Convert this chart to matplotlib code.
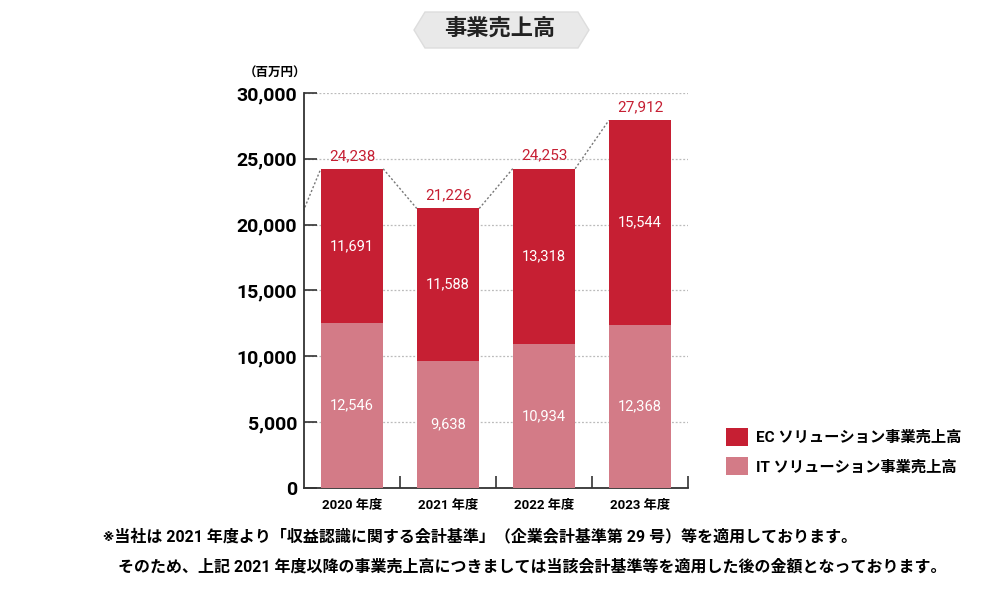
import matplotlib
matplotlib.use("Agg")
import matplotlib.pyplot as plt
from matplotlib.patches import Polygon, Patch

plt.rcParams['font.family'] = ['Roboto', 'Noto Sans CJK JP', 'DejaVu Sans']

# data (million yen)
years = ["2020 年度", "2021 年度", "2022 年度", "2023 年度"]
it_sales = [12546, 9638, 10934, 12368]
ec_sales = [11691, 11588, 13318, 15544]
totals = [24238, 21226, 24253, 27912]
prev_total = 18100  # 2019, only visible as the dotted line entering from the left
yticks = [0, 5000, 10000, 15000, 20000, 25000, 30000]

ec_color = "#c61f33"
it_color = "#d37b87"
bar_w = 0.65

fig = plt.figure(figsize=(10, 5.91), dpi=100)
ax = fig.add_axes([0.304, 0.1743, 0.384, 0.6684])

x = [i + 0.5 for i in range(len(years))]
ax.bar(x, it_sales, width=bar_w, color=it_color, zorder=3)
ax.bar(x, ec_sales, width=bar_w, bottom=it_sales, color=ec_color, zorder=3)

# labels inside and above bars
for xi, it, ec, tot in zip(x, it_sales, ec_sales, totals):
    ax.text(xi, it / 2, f"{it:,}", ha='center', va='center', color='white',
            fontsize=10.5, zorder=4)
    ax.text(xi, it + ec / 2, f"{ec:,}", ha='center', va='center', color='white',
            fontsize=10.5, zorder=4)
    ax.text(xi, it + ec + 450, f"{tot:,}", ha='center', va='bottom', color=ec_color,
            fontsize=11, zorder=4)

# dotted connectors between bar tops
tops = [prev_total] + [it + ec for it, ec in zip(it_sales, ec_sales)]
xs = [-0.5] + x
for i in range(len(tops) - 1):
    ax.plot([xs[i] + bar_w / 2, xs[i + 1] - bar_w / 2], [tops[i], tops[i + 1]],
            ls=(0, (1.5, 1.5)), color='#777777', lw=1, zorder=2, clip_on=True)

ax.set_xlim(0, 4)
ax.set_ylim(0, 30000)
ax.set_yticks(yticks)
ax.set_yticklabels([f"{v:,}" for v in yticks], fontsize=14, fontweight='bold')
ax.set_xticks(x)
ax.set_xticklabels(years, fontsize=9.5, fontweight='bold')
ax.set_xticks([1, 2, 3, 4], minor=True)
ax.tick_params(axis='x', which='major', length=0, pad=8)
ax.tick_params(axis='x', which='minor', direction='in', length=9, width=1.2, color='#333333')
ax.tick_params(axis='y', direction='in', length=9, width=1.2, color='#333333', pad=5)

ax.yaxis.grid(True, ls=(0, (1.5, 1.5)), color='#bbbbbb', lw=0.9, zorder=0)
ax.set_axisbelow(True)
for s in ['top', 'right']:
    ax.spines[s].set_visible(False)
for s in ['left', 'bottom']:
    ax.spines[s].set_linewidth(1.3)
    ax.spines[s].set_color('#333333')

fig.text(0.275, 1 - 73 / 591, "（百万円）", ha='center', va='center', fontsize=9, fontweight='bold')

# title banner
pts = [(414, 30), (425, 12), (578, 12), (589, 30), (578, 48), (425, 48)]
fig.patches.append(Polygon([(px / 1000, 1 - py / 591) for px, py in pts], closed=True,
                           facecolor='#e9e9e9', edgecolor='#dddddd', lw=1,
                           transform=fig.transFigure))
fig.text(0.5, 1 - 30 / 591, "事業売上高", ha='center', va='center', fontsize=16,
         fontweight='bold', color='#222222')

handles = [Patch(facecolor=ec_color), Patch(facecolor=it_color)]
fig.legend(handles, ["EC ソリューション事業売上高", "IT ソリューション事業売上高"],
           loc='upper left', bbox_to_anchor=(0.712, 1 - 414 / 591), frameon=False,
           handlelength=1.45, handleheight=1.45, handletextpad=0.55, labelspacing=0.75,
           prop={'size': 11, 'weight': 'bold'})

fig.text(0.103, 1 - 537 / 591,
         "※当社は 2021 年度より「収益認識に関する会計基準」（企業会計基準第 29 号）等を適用しております。",
         ha='left', va='center', fontsize=11.5, fontweight='bold')
fig.text(0.118, 1 - 567 / 591,
         "そのため、上記 2021 年度以降の事業売上高につきましては当該会計基準等を適用した後の金額となっております。",
         ha='left', va='center', fontsize=11.5, fontweight='bold')

fig.savefig("out.png", dpi=100)
